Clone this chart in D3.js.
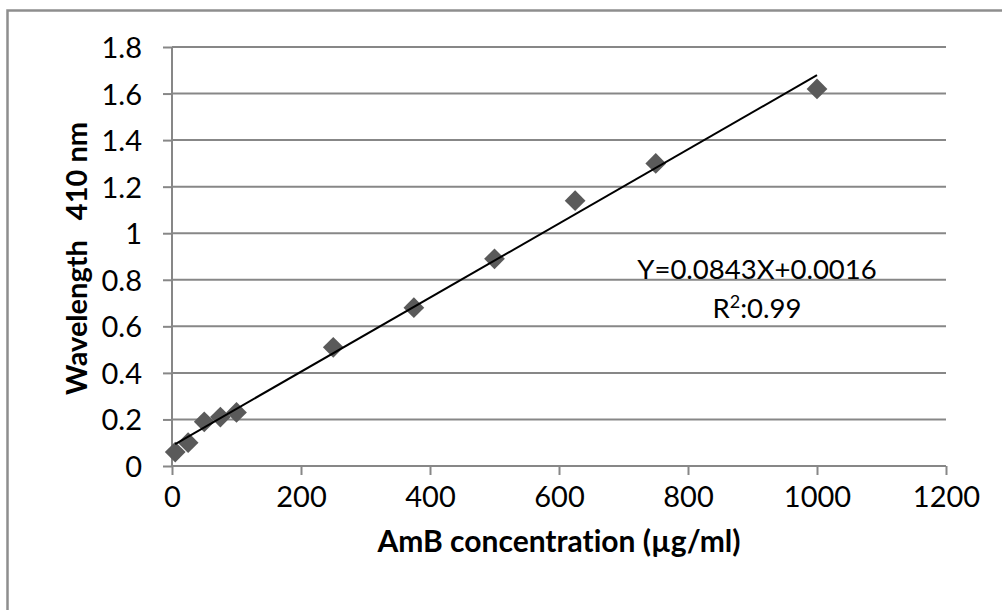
<!DOCTYPE html>
<html>
<head>
<meta charset="utf-8">
<script src="https://cdn.jsdelivr.net/npm/d3@7"></script>
<style>
  html, body { margin: 0; padding: 0; background: #fff; }
  svg { display: block; font-family: Lato, "Open Sans", sans-serif; font-variant-ligatures: none; }
</style>
</head>
<body>
<svg id="chart" width="1002" height="610"></svg>
<script>
// ---- data ----
const concentrations = [5, 25, 50, 75, 100, 250, 375, 500, 625, 750, 1000];
const absorbances   = [0.06, 0.10, 0.19, 0.21, 0.23, 0.51, 0.68, 0.89, 1.14, 1.30, 1.62];
const xTicks = [0, 200, 400, 600, 800, 1000, 1200];
const yTicks = [0, 0.2, 0.4, 0.6, 0.8, 1, 1.2, 1.4, 1.6, 1.8];
const xTitle = "AmB concentration (\u00B5g/ml)";
const yTitleParts = ["Wavelength", "410 nm"];
const equationText = "Y=0.0843X+0.0016";
const r2Label = "R";
const r2Value = ":0.99";

(function () {
  // ---- layout ----
  const svg = d3.select("#chart");
  const pLeft = 172, pRight = 946, pTop = 47, pBottom = 466;
  const x = d3.scaleLinear().domain([0, 1200]).range([pLeft, pRight]);
  const y = d3.scaleLinear().domain([0, 1.8]).range([pBottom, pTop]);
  const gridColor = "#878787";

  // outer frame
  svg.append("rect")
    .attr("x", 7.5).attr("y", 10.5)
    .attr("width", 1200).attr("height", 800)
    .attr("fill", "none").attr("stroke", "#8e8e8e").attr("stroke-width", 2.5);

  // horizontal gridlines
  svg.append("g").selectAll("line").data(yTicks).join("line")
    .attr("x1", pLeft).attr("x2", pRight)
    .attr("y1", d => y(d)).attr("y2", d => y(d))
    .attr("stroke", gridColor).attr("stroke-width", 2);

  // y axis
  const yAxis = svg.append("g").attr("transform", `translate(${pLeft},0)`)
    .call(d3.axisLeft(y).tickValues(yTicks).tickSize(9).tickPadding(21)
          .tickFormat(d => d3.format("~g")(d)));
  yAxis.selectAll("path, line").attr("stroke", gridColor).attr("stroke-width", 2);
  yAxis.select(".domain").attr("d", `M0,${pTop}V${pBottom}`);
  yAxis.selectAll("text").attr("font-size", 29).attr("fill", "#000")
    .attr("font-family", "Lato, sans-serif").attr("dy", "0.36em");

  // x axis
  const xAxis = svg.append("g").attr("transform", `translate(0,${pBottom})`)
    .call(d3.axisBottom(x).tickValues(xTicks).tickSize(9).tickPadding(12)
          .tickFormat(d3.format("d")));
  xAxis.selectAll("path, line").attr("stroke", gridColor).attr("stroke-width", 2);
  xAxis.select(".domain").attr("d", `M${pLeft},0H${pRight}`);
  xAxis.selectAll("text").attr("font-size", 29).attr("fill", "#000")
    .attr("font-family", "Lato, sans-serif").attr("y", 31).attr("dy", "0.36em");

  // markers (diamonds)
  const diamond = d3.symbol().type(d3.symbolSquare).size(215);
  svg.append("g").selectAll("path").data(concentrations).join("path")
    .attr("d", diamond)
    .attr("transform", (d, i) => `translate(${x(d)},${y(absorbances[i])}) rotate(45)`)
    .attr("fill", "#5a5a5a");

  // trendline (least-squares fit of the data, spanning the data range)
  const mx = d3.mean(concentrations), my = d3.mean(absorbances);
  let sxy = 0, sxx = 0;
  concentrations.forEach((c, i) => { sxy += (c - mx) * (absorbances[i] - my); sxx += (c - mx) ** 2; });
  const slope = sxy / sxx, intercept = my - slope * mx;
  const xExt = d3.extent(concentrations);
  svg.append("line")
    .attr("x1", x(xExt[0])).attr("y1", y(intercept + slope * xExt[0]))
    .attr("x2", x(xExt[1])).attr("y2", y(intercept + slope * xExt[1]))
    .attr("stroke", "#000").attr("stroke-width", 2);

  // equation annotation
  svg.append("text")
    .attr("x", 757).attr("y", 279)
    .attr("text-anchor", "middle").attr("font-size", 27.5).attr("fill", "#000")
    .text(equationText);
  const r2 = svg.append("text")
    .attr("x", 757).attr("y", 318)
    .attr("text-anchor", "middle").attr("font-size", 27.5).attr("fill", "#000");
  r2.append("tspan").text(r2Label);
  r2.append("tspan").text("2").attr("font-size", 18).attr("dy", -10);
  r2.append("tspan").text(r2Value).attr("dy", 10);

  // axis titles
  svg.append("text")
    .attr("x", (pLeft + pRight) / 2).attr("y", 552)
    .attr("text-anchor", "middle").attr("font-size", 30).attr("font-weight", "bold")
    .attr("fill", "#000")
    .text(xTitle);
  const yt = svg.append("text")
    .attr("transform", `translate(87,${(115 + 402) / 2}) rotate(-90)`)
    .attr("text-anchor", "middle").attr("font-size", 29).attr("font-weight", "bold")
    .attr("fill", "#000");
  yt.append("tspan").text(yTitleParts[0]);
  yt.append("tspan").attr("dx", 20).text(yTitleParts[1]);
})();
</script>
</body>
</html>
